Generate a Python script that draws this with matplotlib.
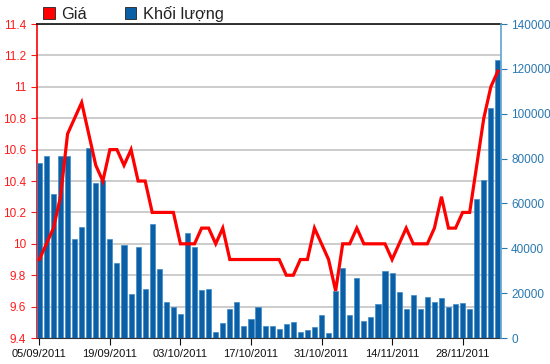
import matplotlib
matplotlib.use("Agg")
import matplotlib.pyplot as plt
from matplotlib.patches import Patch

plt.rcParams["font.family"] = ["Liberation Sans", "DejaVu Sans"]

# one entry per trading day, 05/09/2011 .. 05/12/2011
prices = [
    9.9, 10.0, 10.1, 10.3, 10.7, 10.8, 10.9, 10.7, 10.5, 10.4,
    10.6, 10.6, 10.5, 10.6, 10.4, 10.4, 10.2, 10.2, 10.2, 10.2,
    10.0, 10.0, 10.0, 10.1, 10.1, 10.0, 10.1, 9.9, 9.9, 9.9,
    9.9, 9.9, 9.9, 9.9, 9.9, 9.8, 9.8, 9.9, 9.9, 10.1,
    10.0, 9.9, 9.7, 10.0, 10.0, 10.1, 10.0, 10.0, 10.0, 10.0,
    9.9, 10.0, 10.1, 10.0, 10.0, 10.0, 10.1, 10.3, 10.1, 10.1,
    10.2, 10.2, 10.5, 10.8, 11.0, 11.1,
]
volumes = [
    78000, 81000, 64000, 81000, 81000, 44000, 49500, 84500, 69000, 70500,
    44000, 33500, 41500, 19500, 40700, 22000, 51000, 30600, 16200, 13800,
    10500, 47000, 40700, 21200, 22000, 2700, 6500, 12900, 16200, 5500,
    8300, 14000, 5500, 5500, 4200, 6100, 7100, 2500, 3700, 4900,
    10100, 2100, 21000, 31400, 10100, 26900, 7600, 9500, 15000, 29700,
    29100, 20500, 12900, 19000, 12900, 18300, 16000, 17800, 13800, 15000,
    15600, 12800, 62000, 70400, 102400, 124000,
]
tick_pos = [0, 10, 20, 30, 40, 50, 60]
tick_labels = ["05/09/2011", "19/09/2011", "03/10/2011", "17/10/2011",
               "31/10/2011", "14/11/2011", "28/11/2011"]

x = list(range(len(prices)))

fig = plt.figure(figsize=(5.5, 3.64), dpi=100)
ax = fig.add_axes([0.0664, 0.0714, 0.844, 0.8626])

# bottom layer: price scale + grid
ax.set_ylim(9.4, 11.4)
ax.set_yticks([9.4, 9.6, 9.8, 10.0, 10.2, 10.4, 10.6, 10.8, 11.0, 11.2, 11.4])
ax.set_yticklabels(["9.4", "9.6", "9.8", "10", "10.2", "10.4", "10.6",
                    "10.8", "11", "11.2", "11.4"])
ax.grid(axis="y", color="#c8c8c8", linewidth=1.3)
ax.set_axisbelow(True)
ax.set_xlim(-0.4, 65.4)
ax.set_xticks(tick_pos)
ax.set_xticklabels(tick_labels)
ax.tick_params(axis="y", colors="#ff1a1a", labelsize=8.5, length=4)
ax.tick_params(axis="x", colors="#111111", labelsize=8, length=5, pad=3)
ax.spines["left"].set_color("#ff0000")
ax.spines["left"].set_linewidth(1.2)
ax.spines["right"].set_visible(False)
ax.spines["top"].set_color("#111111")
ax.spines["top"].set_linewidth(1.2)
ax.spines["bottom"].set_color("#333333")

# middle layer: volume bars
ax2 = ax.twinx()
ax2.bar(x, volumes, width=0.72, color="#0b5fa5", edgecolor="#3d8ccc",
        linewidth=0.5)
ax2.set_ylim(0, 140000)
ax2.set_yticks(range(0, 140001, 20000))
ax2.tick_params(axis="y", colors="#2a78b0", labelsize=8.5, length=4)
ax2.spines["right"].set_color("#5ea3cf")
ax2.spines["right"].set_linewidth(1.2)
for s in ["left", "top", "bottom"]:
    ax2.spines[s].set_visible(False)
ax2.patch.set_visible(False)

# top layer: price line
ax3 = ax.twinx()
ax3.plot(x, prices, color="#ff0000", linewidth=2.3, solid_joinstyle="miter")
ax3.set_ylim(9.4, 11.4)
ax3.axis("off")

handles = [Patch(facecolor="#ff0000", edgecolor="#222222", linewidth=0.6, label="Giá"),
           Patch(facecolor="#0b5fa5", edgecolor="#222222", linewidth=0.6, label="Khối lượng")]
fig.legend(handles=handles, loc="center left", bbox_to_anchor=(0.058, 0.962),
           ncol=2, frameon=False, fontsize=11.8, handlelength=0.7, handleheight=0.7,
           handletextpad=0.4, columnspacing=2.3, borderpad=0.2, labelcolor="#222222")

fig.savefig("out.png", dpi=100)
